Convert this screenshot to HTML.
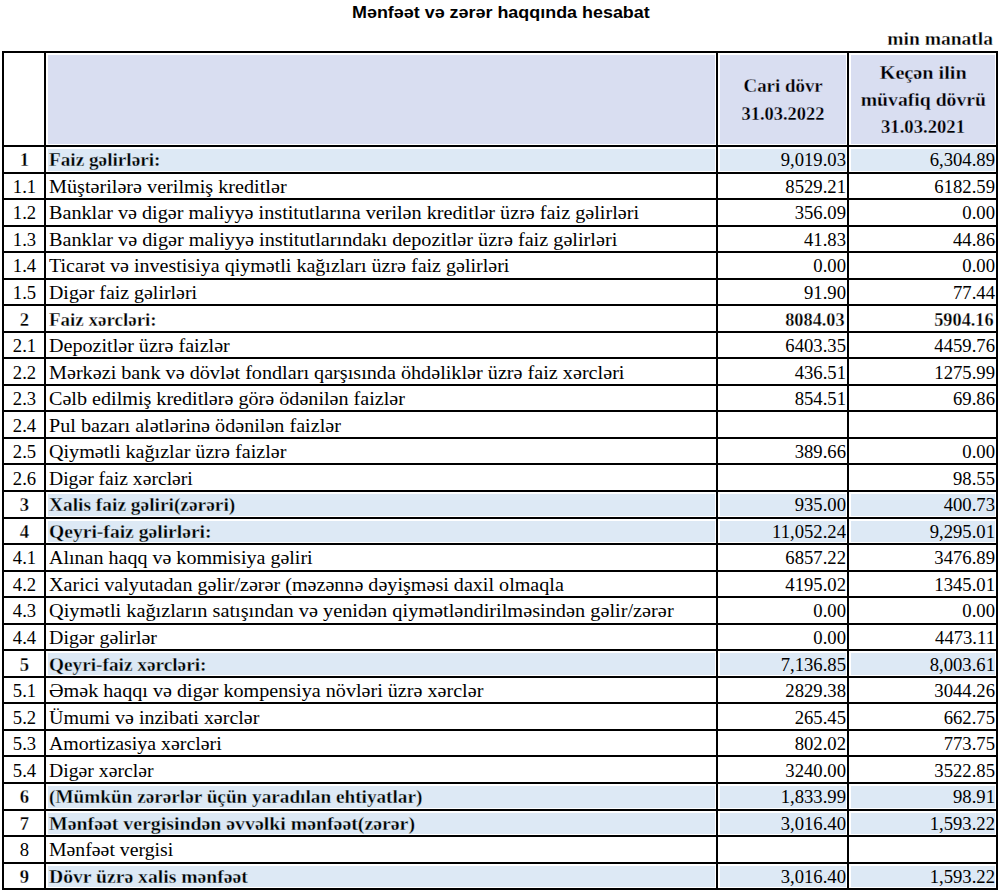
<!DOCTYPE html>
<html><head><meta charset="utf-8"><style>
html,body{margin:0;padding:0;background:#fff;}
body{width:1000px;height:892px;position:relative;overflow:hidden;}
.a{position:absolute;}
.l{position:absolute;background:#000;}
.f{position:absolute;}
.t{position:absolute;font-family:"Liberation Serif",serif;white-space:nowrap;color:#000;}
.title{position:absolute;font-family:"Liberation Sans",sans-serif;font-weight:bold;white-space:nowrap;}
</style></head><body>

<div class="title" style="left:352px;top:1.9px;font-size:16.5px;line-height:20px;transform:scaleX(1.086);transform-origin:0 0;">Mənfəət və zərər haqqında hesabat</div>
<div class="t" style="right:7px;top:29px;font-size:18.67px;line-height:20px;font-weight:bold;-webkit-text-stroke:0.3px #fff;transform:scaleX(1.047);transform-origin:100% 0;letter-spacing:0px">min manatla</div>
<div class="f" style="left:48px;top:55px;width:667px;height:89px;background:#d9def1"></div>
<div class="f" style="left:720px;top:55px;width:126px;height:89px;background:#d9def1"></div>
<div class="f" style="left:851px;top:55px;width:144px;height:89px;background:#d9def1"></div>
<div class="f" style="left:48px;top:149px;width:667px;height:22px;background:#dde9f5"></div>
<div class="f" style="left:720px;top:149px;width:126px;height:22px;background:#dde9f5"></div>
<div class="f" style="left:851px;top:149px;width:144px;height:22px;background:#dde9f5"></div>
<div class="f" style="left:48px;top:494px;width:667px;height:22px;background:#dde9f5"></div>
<div class="f" style="left:720px;top:494px;width:126px;height:22px;background:#dde9f5"></div>
<div class="f" style="left:851px;top:494px;width:144px;height:22px;background:#dde9f5"></div>
<div class="f" style="left:48px;top:521px;width:667px;height:21px;background:#dde9f5"></div>
<div class="f" style="left:720px;top:521px;width:126px;height:21px;background:#dde9f5"></div>
<div class="f" style="left:851px;top:521px;width:144px;height:21px;background:#dde9f5"></div>
<div class="f" style="left:48px;top:653px;width:667px;height:22px;background:#dde9f5"></div>
<div class="f" style="left:720px;top:653px;width:126px;height:22px;background:#dde9f5"></div>
<div class="f" style="left:851px;top:653px;width:144px;height:22px;background:#dde9f5"></div>
<div class="f" style="left:48px;top:786px;width:667px;height:22px;background:#dde9f5"></div>
<div class="f" style="left:720px;top:786px;width:126px;height:22px;background:#dde9f5"></div>
<div class="f" style="left:851px;top:786px;width:144px;height:22px;background:#dde9f5"></div>
<div class="f" style="left:48px;top:813px;width:667px;height:21px;background:#dde9f5"></div>
<div class="f" style="left:720px;top:813px;width:126px;height:21px;background:#dde9f5"></div>
<div class="f" style="left:851px;top:813px;width:144px;height:21px;background:#dde9f5"></div>
<div class="f" style="left:48px;top:866px;width:667px;height:21px;background:#dde9f5"></div>
<div class="f" style="left:720px;top:866px;width:126px;height:21px;background:#dde9f5"></div>
<div class="f" style="left:851px;top:866px;width:144px;height:21px;background:#dde9f5"></div>
<div class="l" style="left:2px;top:51px;width:996px;height:2px"></div>
<div class="l" style="left:2px;top:145px;width:996px;height:2px"></div>
<div class="l" style="left:2px;top:172px;width:996px;height:2px"></div>
<div class="l" style="left:2px;top:198px;width:996px;height:2px"></div>
<div class="l" style="left:2px;top:225px;width:996px;height:2px"></div>
<div class="l" style="left:2px;top:251px;width:996px;height:2px"></div>
<div class="l" style="left:2px;top:278px;width:996px;height:2px"></div>
<div class="l" style="left:2px;top:304px;width:996px;height:2px"></div>
<div class="l" style="left:2px;top:331px;width:996px;height:2px"></div>
<div class="l" style="left:2px;top:357px;width:996px;height:2px"></div>
<div class="l" style="left:2px;top:384px;width:996px;height:2px"></div>
<div class="l" style="left:2px;top:410px;width:996px;height:2px"></div>
<div class="l" style="left:2px;top:437px;width:996px;height:2px"></div>
<div class="l" style="left:2px;top:463px;width:996px;height:2px"></div>
<div class="l" style="left:2px;top:490px;width:996px;height:2px"></div>
<div class="l" style="left:2px;top:517px;width:996px;height:2px"></div>
<div class="l" style="left:2px;top:543px;width:996px;height:2px"></div>
<div class="l" style="left:2px;top:570px;width:996px;height:2px"></div>
<div class="l" style="left:2px;top:596px;width:996px;height:2px"></div>
<div class="l" style="left:2px;top:623px;width:996px;height:2px"></div>
<div class="l" style="left:2px;top:649px;width:996px;height:2px"></div>
<div class="l" style="left:2px;top:676px;width:996px;height:2px"></div>
<div class="l" style="left:2px;top:702px;width:996px;height:2px"></div>
<div class="l" style="left:2px;top:729px;width:996px;height:2px"></div>
<div class="l" style="left:2px;top:755px;width:996px;height:2px"></div>
<div class="l" style="left:2px;top:782px;width:996px;height:2px"></div>
<div class="l" style="left:2px;top:809px;width:996px;height:2px"></div>
<div class="l" style="left:2px;top:835px;width:996px;height:2px"></div>
<div class="l" style="left:2px;top:862px;width:996px;height:2px"></div>
<div class="l" style="left:2px;top:888px;width:996px;height:2px"></div>
<div class="l" style="left:2px;top:51px;width:2px;height:839px"></div>
<div class="l" style="left:44px;top:51px;width:2px;height:839px"></div>
<div class="l" style="left:716px;top:51px;width:2px;height:839px"></div>
<div class="l" style="left:847px;top:51px;width:2px;height:839px"></div>
<div class="l" style="left:996px;top:51px;width:2px;height:839px"></div>
<div class="t" style="left:4.5px;width:40px;text-align:center;top:148.3px;font-size:18.67px;line-height:24px;font-weight:bold;-webkit-text-stroke:0.3px #fff;"><span style="display:inline-block;transform:scaleX(1.0);letter-spacing:0px">1</span></div>
<div class="t" style="left:49px;top:148.3px;font-size:18.67px;line-height:24px;font-weight:bold;-webkit-text-stroke:0.3px #dde9f5;transform:scaleX(1.0299);transform-origin:0 0;letter-spacing:0px">Faiz gəlirləri:</div>
<div class="t" style="right:154px;top:148.3px;font-size:18.67px;line-height:24px;transform:scaleX(1.0);transform-origin:100% 0;letter-spacing:0px">9,019.03</div>
<div class="t" style="right:5px;top:148.3px;font-size:18.67px;line-height:24px;transform:scaleX(1.0);transform-origin:100% 0;letter-spacing:0px">6,304.89</div>
<div class="t" style="left:4.5px;width:40px;text-align:center;top:174.84px;font-size:18.67px;line-height:24px;"><span style="display:inline-block;transform:scaleX(1.0);letter-spacing:0px">1.1</span></div>
<div class="t" style="left:49px;top:174.84px;font-size:18.67px;line-height:24px;transform:scaleX(1.0818);transform-origin:0 0;letter-spacing:0px">Müştərilərə verilmiş kreditlər</div>
<div class="t" style="right:154px;top:174.84px;font-size:18.67px;line-height:24px;transform:scaleX(1.0);transform-origin:100% 0;letter-spacing:0px">8529.21</div>
<div class="t" style="right:5px;top:174.84px;font-size:18.67px;line-height:24px;transform:scaleX(1.0);transform-origin:100% 0;letter-spacing:0px">6182.59</div>
<div class="t" style="left:4.5px;width:40px;text-align:center;top:201.38px;font-size:18.67px;line-height:24px;"><span style="display:inline-block;transform:scaleX(1.0);letter-spacing:0px">1.2</span></div>
<div class="t" style="left:49px;top:201.38px;font-size:18.67px;line-height:24px;transform:scaleX(1.0817);transform-origin:0 0;letter-spacing:0px">Banklar və digər maliyyə institutlarına verilən kreditlər üzrə faiz gəlirləri</div>
<div class="t" style="right:154px;top:201.38px;font-size:18.67px;line-height:24px;transform:scaleX(1.0);transform-origin:100% 0;letter-spacing:0px">356.09</div>
<div class="t" style="right:5px;top:201.38px;font-size:18.67px;line-height:24px;transform:scaleX(1.0);transform-origin:100% 0;letter-spacing:0px">0.00</div>
<div class="t" style="left:4.5px;width:40px;text-align:center;top:227.92px;font-size:18.67px;line-height:24px;"><span style="display:inline-block;transform:scaleX(1.0);letter-spacing:0px">1.3</span></div>
<div class="t" style="left:49px;top:227.92px;font-size:18.67px;line-height:24px;transform:scaleX(1.084);transform-origin:0 0;letter-spacing:0px">Banklar və digər maliyyə institutlarındakı depozitlər üzrə faiz gəlirləri</div>
<div class="t" style="right:154px;top:227.92px;font-size:18.67px;line-height:24px;transform:scaleX(1.0);transform-origin:100% 0;letter-spacing:0px">41.83</div>
<div class="t" style="right:5px;top:227.92px;font-size:18.67px;line-height:24px;transform:scaleX(1.0);transform-origin:100% 0;letter-spacing:0px">44.86</div>
<div class="t" style="left:4.5px;width:40px;text-align:center;top:254.46px;font-size:18.67px;line-height:24px;"><span style="display:inline-block;transform:scaleX(1.0);letter-spacing:0px">1.4</span></div>
<div class="t" style="left:49px;top:254.46px;font-size:18.67px;line-height:24px;transform:scaleX(1.0738);transform-origin:0 0;letter-spacing:0px">Ticarət və investisiya qiymətli kağızları üzrə faiz gəlirləri</div>
<div class="t" style="right:154px;top:254.46px;font-size:18.67px;line-height:24px;transform:scaleX(1.0);transform-origin:100% 0;letter-spacing:0px">0.00</div>
<div class="t" style="right:5px;top:254.46px;font-size:18.67px;line-height:24px;transform:scaleX(1.0);transform-origin:100% 0;letter-spacing:0px">0.00</div>
<div class="t" style="left:4.5px;width:40px;text-align:center;top:281.0px;font-size:18.67px;line-height:24px;"><span style="display:inline-block;transform:scaleX(1.0);letter-spacing:0px">1.5</span></div>
<div class="t" style="left:49px;top:281.0px;font-size:18.67px;line-height:24px;transform:scaleX(1.0667);transform-origin:0 0;letter-spacing:0px">Digər faiz gəlirləri</div>
<div class="t" style="right:154px;top:281.0px;font-size:18.67px;line-height:24px;transform:scaleX(1.0);transform-origin:100% 0;letter-spacing:0px">91.90</div>
<div class="t" style="right:5px;top:281.0px;font-size:18.67px;line-height:24px;transform:scaleX(1.0);transform-origin:100% 0;letter-spacing:0px">77.44</div>
<div class="t" style="left:4.5px;width:40px;text-align:center;top:307.54px;font-size:18.67px;line-height:24px;font-weight:bold;-webkit-text-stroke:0.3px #fff;"><span style="display:inline-block;transform:scaleX(1.0);letter-spacing:0px">2</span></div>
<div class="t" style="left:49px;top:307.54px;font-size:18.67px;line-height:24px;font-weight:bold;-webkit-text-stroke:0.3px #fff;transform:scaleX(1.0173);transform-origin:0 0;letter-spacing:0px">Faiz xərcləri:</div>
<div class="t" style="right:155px;top:307.54px;font-size:18.67px;line-height:24px;font-weight:bold;-webkit-text-stroke:0.3px #fff;transform:scaleX(0.98);transform-origin:100% 0;letter-spacing:0px">8084.03</div>
<div class="t" style="right:6px;top:307.54px;font-size:18.67px;line-height:24px;font-weight:bold;-webkit-text-stroke:0.3px #fff;transform:scaleX(0.98);transform-origin:100% 0;letter-spacing:0px">5904.16</div>
<div class="t" style="left:4.5px;width:40px;text-align:center;top:334.08px;font-size:18.67px;line-height:24px;"><span style="display:inline-block;transform:scaleX(1.0);letter-spacing:0px">2.1</span></div>
<div class="t" style="left:49px;top:334.08px;font-size:18.67px;line-height:24px;transform:scaleX(1.0774);transform-origin:0 0;letter-spacing:0px">Depozitlər üzrə faizlər</div>
<div class="t" style="right:154px;top:334.08px;font-size:18.67px;line-height:24px;transform:scaleX(1.0);transform-origin:100% 0;letter-spacing:0px">6403.35</div>
<div class="t" style="right:5px;top:334.08px;font-size:18.67px;line-height:24px;transform:scaleX(1.0);transform-origin:100% 0;letter-spacing:0px">4459.76</div>
<div class="t" style="left:4.5px;width:40px;text-align:center;top:360.62px;font-size:18.67px;line-height:24px;"><span style="display:inline-block;transform:scaleX(1.0);letter-spacing:0px">2.2</span></div>
<div class="t" style="left:49px;top:360.62px;font-size:18.67px;line-height:24px;transform:scaleX(1.0817);transform-origin:0 0;letter-spacing:0px">Mərkəzi bank və dövlət fondları qarşısında öhdəliklər üzrə faiz xərcləri</div>
<div class="t" style="right:154px;top:360.62px;font-size:18.67px;line-height:24px;transform:scaleX(1.0);transform-origin:100% 0;letter-spacing:0px">436.51</div>
<div class="t" style="right:5px;top:360.62px;font-size:18.67px;line-height:24px;transform:scaleX(1.0);transform-origin:100% 0;letter-spacing:0px">1275.99</div>
<div class="t" style="left:4.5px;width:40px;text-align:center;top:387.16px;font-size:18.67px;line-height:24px;"><span style="display:inline-block;transform:scaleX(1.0);letter-spacing:0px">2.3</span></div>
<div class="t" style="left:49px;top:387.16px;font-size:18.67px;line-height:24px;transform:scaleX(1.0788);transform-origin:0 0;letter-spacing:0px">Cəlb edilmiş kreditlərə görə ödənilən faizlər</div>
<div class="t" style="right:154px;top:387.16px;font-size:18.67px;line-height:24px;transform:scaleX(1.0);transform-origin:100% 0;letter-spacing:0px">854.51</div>
<div class="t" style="right:5px;top:387.16px;font-size:18.67px;line-height:24px;transform:scaleX(1.0);transform-origin:100% 0;letter-spacing:0px">69.86</div>
<div class="t" style="left:4.5px;width:40px;text-align:center;top:413.7px;font-size:18.67px;line-height:24px;"><span style="display:inline-block;transform:scaleX(1.0);letter-spacing:0px">2.4</span></div>
<div class="t" style="left:49px;top:413.7px;font-size:18.67px;line-height:24px;transform:scaleX(1.0796);transform-origin:0 0;letter-spacing:0px">Pul bazarı alətlərinə ödənilən faizlər</div>
<div class="t" style="left:4.5px;width:40px;text-align:center;top:440.24px;font-size:18.67px;line-height:24px;"><span style="display:inline-block;transform:scaleX(1.0);letter-spacing:0px">2.5</span></div>
<div class="t" style="left:49px;top:440.24px;font-size:18.67px;line-height:24px;transform:scaleX(1.0784);transform-origin:0 0;letter-spacing:0px">Qiymətli kağızlar üzrə faizlər</div>
<div class="t" style="right:154px;top:440.24px;font-size:18.67px;line-height:24px;transform:scaleX(1.0);transform-origin:100% 0;letter-spacing:0px">389.66</div>
<div class="t" style="right:5px;top:440.24px;font-size:18.67px;line-height:24px;transform:scaleX(1.0);transform-origin:100% 0;letter-spacing:0px">0.00</div>
<div class="t" style="left:4.5px;width:40px;text-align:center;top:466.78px;font-size:18.67px;line-height:24px;"><span style="display:inline-block;transform:scaleX(1.0);letter-spacing:0px">2.6</span></div>
<div class="t" style="left:49px;top:466.78px;font-size:18.67px;line-height:24px;transform:scaleX(1.0515);transform-origin:0 0;letter-spacing:0px">Digər faiz xərcləri</div>
<div class="t" style="right:5px;top:466.78px;font-size:18.67px;line-height:24px;transform:scaleX(1.0);transform-origin:100% 0;letter-spacing:0px">98.55</div>
<div class="t" style="left:4.5px;width:40px;text-align:center;top:493.32px;font-size:18.67px;line-height:24px;font-weight:bold;-webkit-text-stroke:0.3px #fff;"><span style="display:inline-block;transform:scaleX(1.0);letter-spacing:0px">3</span></div>
<div class="t" style="left:49px;top:493.32px;font-size:18.67px;line-height:24px;font-weight:bold;-webkit-text-stroke:0.3px #dde9f5;transform:scaleX(1.0391);transform-origin:0 0;letter-spacing:0px">Xalis faiz gəliri(zərəri)</div>
<div class="t" style="right:154px;top:493.32px;font-size:18.67px;line-height:24px;transform:scaleX(1.0);transform-origin:100% 0;letter-spacing:0px">935.00</div>
<div class="t" style="right:5px;top:493.32px;font-size:18.67px;line-height:24px;transform:scaleX(1.0);transform-origin:100% 0;letter-spacing:0px">400.73</div>
<div class="t" style="left:4.5px;width:40px;text-align:center;top:519.86px;font-size:18.67px;line-height:24px;font-weight:bold;-webkit-text-stroke:0.3px #fff;"><span style="display:inline-block;transform:scaleX(1.0);letter-spacing:0px">4</span></div>
<div class="t" style="left:49px;top:519.86px;font-size:18.67px;line-height:24px;font-weight:bold;-webkit-text-stroke:0.3px #dde9f5;transform:scaleX(1.0497);transform-origin:0 0;letter-spacing:0px">Qeyri-faiz gəlirləri:</div>
<div class="t" style="right:154px;top:519.86px;font-size:18.67px;line-height:24px;transform:scaleX(1.0);transform-origin:100% 0;letter-spacing:0px">11,052.24</div>
<div class="t" style="right:5px;top:519.86px;font-size:18.67px;line-height:24px;transform:scaleX(1.0);transform-origin:100% 0;letter-spacing:0px">9,295.01</div>
<div class="t" style="left:4.5px;width:40px;text-align:center;top:546.4px;font-size:18.67px;line-height:24px;"><span style="display:inline-block;transform:scaleX(1.0);letter-spacing:0px">4.1</span></div>
<div class="t" style="left:49px;top:546.4px;font-size:18.67px;line-height:24px;transform:scaleX(1.0735);transform-origin:0 0;letter-spacing:0px">Alınan haqq və kommisiya gəliri</div>
<div class="t" style="right:154px;top:546.4px;font-size:18.67px;line-height:24px;transform:scaleX(1.0);transform-origin:100% 0;letter-spacing:0px">6857.22</div>
<div class="t" style="right:5px;top:546.4px;font-size:18.67px;line-height:24px;transform:scaleX(1.0);transform-origin:100% 0;letter-spacing:0px">3476.89</div>
<div class="t" style="left:4.5px;width:40px;text-align:center;top:572.94px;font-size:18.67px;line-height:24px;"><span style="display:inline-block;transform:scaleX(1.0);letter-spacing:0px">4.2</span></div>
<div class="t" style="left:49px;top:572.94px;font-size:18.67px;line-height:24px;transform:scaleX(1.078);transform-origin:0 0;letter-spacing:0px">Xarici valyutadan gəlir/zərər (məzənnə dəyişməsi daxil olmaqla</div>
<div class="t" style="right:154px;top:572.94px;font-size:18.67px;line-height:24px;transform:scaleX(1.0);transform-origin:100% 0;letter-spacing:0px">4195.02</div>
<div class="t" style="right:5px;top:572.94px;font-size:18.67px;line-height:24px;transform:scaleX(1.0);transform-origin:100% 0;letter-spacing:0px">1345.01</div>
<div class="t" style="left:4.5px;width:40px;text-align:center;top:599.48px;font-size:18.67px;line-height:24px;"><span style="display:inline-block;transform:scaleX(1.0);letter-spacing:0px">4.3</span></div>
<div class="t" style="left:49px;top:599.48px;font-size:18.67px;line-height:24px;transform:scaleX(1.0882);transform-origin:0 0;letter-spacing:0px">Qiymətli kağızların satışından və yenidən qiymətləndirilməsindən gəlir/zərər</div>
<div class="t" style="right:154px;top:599.48px;font-size:18.67px;line-height:24px;transform:scaleX(1.0);transform-origin:100% 0;letter-spacing:0px">0.00</div>
<div class="t" style="right:5px;top:599.48px;font-size:18.67px;line-height:24px;transform:scaleX(1.0);transform-origin:100% 0;letter-spacing:0px">0.00</div>
<div class="t" style="left:4.5px;width:40px;text-align:center;top:626.02px;font-size:18.67px;line-height:24px;"><span style="display:inline-block;transform:scaleX(1.0);letter-spacing:0px">4.4</span></div>
<div class="t" style="left:49px;top:626.02px;font-size:18.67px;line-height:24px;transform:scaleX(1.0693);transform-origin:0 0;letter-spacing:0px">Digər gəlirlər</div>
<div class="t" style="right:154px;top:626.02px;font-size:18.67px;line-height:24px;transform:scaleX(1.0);transform-origin:100% 0;letter-spacing:0px">0.00</div>
<div class="t" style="right:5px;top:626.02px;font-size:18.67px;line-height:24px;transform:scaleX(1.0);transform-origin:100% 0;letter-spacing:0px">4473.11</div>
<div class="t" style="left:4.5px;width:40px;text-align:center;top:652.56px;font-size:18.67px;line-height:24px;font-weight:bold;-webkit-text-stroke:0.3px #fff;"><span style="display:inline-block;transform:scaleX(1.0);letter-spacing:0px">5</span></div>
<div class="t" style="left:49px;top:652.56px;font-size:18.67px;line-height:24px;font-weight:bold;-webkit-text-stroke:0.3px #dde9f5;transform:scaleX(1.0331);transform-origin:0 0;letter-spacing:0px">Qeyri-faiz xərcləri:</div>
<div class="t" style="right:154px;top:652.56px;font-size:18.67px;line-height:24px;transform:scaleX(1.0);transform-origin:100% 0;letter-spacing:0px">7,136.85</div>
<div class="t" style="right:5px;top:652.56px;font-size:18.67px;line-height:24px;transform:scaleX(1.0);transform-origin:100% 0;letter-spacing:0px">8,003.61</div>
<div class="t" style="left:4.5px;width:40px;text-align:center;top:679.1px;font-size:18.67px;line-height:24px;"><span style="display:inline-block;transform:scaleX(1.0);letter-spacing:0px">5.1</span></div>
<div class="t" style="left:49px;top:679.1px;font-size:18.67px;line-height:24px;transform:scaleX(1.0791);transform-origin:0 0;letter-spacing:0px">Əmək haqqı və digər kompensiya növləri üzrə xərclər</div>
<div class="t" style="right:154px;top:679.1px;font-size:18.67px;line-height:24px;transform:scaleX(1.0);transform-origin:100% 0;letter-spacing:0px">2829.38</div>
<div class="t" style="right:5px;top:679.1px;font-size:18.67px;line-height:24px;transform:scaleX(1.0);transform-origin:100% 0;letter-spacing:0px">3044.26</div>
<div class="t" style="left:4.5px;width:40px;text-align:center;top:705.64px;font-size:18.67px;line-height:24px;"><span style="display:inline-block;transform:scaleX(1.0);letter-spacing:0px">5.2</span></div>
<div class="t" style="left:49px;top:705.64px;font-size:18.67px;line-height:24px;transform:scaleX(1.0714);transform-origin:0 0;letter-spacing:0px">Ümumi və inzibati xərclər</div>
<div class="t" style="right:154px;top:705.64px;font-size:18.67px;line-height:24px;transform:scaleX(1.0);transform-origin:100% 0;letter-spacing:0px">265.45</div>
<div class="t" style="right:5px;top:705.64px;font-size:18.67px;line-height:24px;transform:scaleX(1.0);transform-origin:100% 0;letter-spacing:0px">662.75</div>
<div class="t" style="left:4.5px;width:40px;text-align:center;top:732.18px;font-size:18.67px;line-height:24px;"><span style="display:inline-block;transform:scaleX(1.0);letter-spacing:0px">5.3</span></div>
<div class="t" style="left:49px;top:732.18px;font-size:18.67px;line-height:24px;transform:scaleX(1.0654);transform-origin:0 0;letter-spacing:0px">Amortizasiya xərcləri</div>
<div class="t" style="right:154px;top:732.18px;font-size:18.67px;line-height:24px;transform:scaleX(1.0);transform-origin:100% 0;letter-spacing:0px">802.02</div>
<div class="t" style="right:5px;top:732.18px;font-size:18.67px;line-height:24px;transform:scaleX(1.0);transform-origin:100% 0;letter-spacing:0px">773.75</div>
<div class="t" style="left:4.5px;width:40px;text-align:center;top:758.72px;font-size:18.67px;line-height:24px;"><span style="display:inline-block;transform:scaleX(1.0);letter-spacing:0px">5.4</span></div>
<div class="t" style="left:49px;top:758.72px;font-size:18.67px;line-height:24px;transform:scaleX(1.0566);transform-origin:0 0;letter-spacing:0px">Digər xərclər</div>
<div class="t" style="right:154px;top:758.72px;font-size:18.67px;line-height:24px;transform:scaleX(1.0);transform-origin:100% 0;letter-spacing:0px">3240.00</div>
<div class="t" style="right:5px;top:758.72px;font-size:18.67px;line-height:24px;transform:scaleX(1.0);transform-origin:100% 0;letter-spacing:0px">3522.85</div>
<div class="t" style="left:4.5px;width:40px;text-align:center;top:785.26px;font-size:18.67px;line-height:24px;font-weight:bold;-webkit-text-stroke:0.3px #fff;"><span style="display:inline-block;transform:scaleX(1.0);letter-spacing:0px">6</span></div>
<div class="t" style="left:49px;top:785.26px;font-size:18.67px;line-height:24px;font-weight:bold;-webkit-text-stroke:0.3px #dde9f5;transform:scaleX(1.0304);transform-origin:0 0;letter-spacing:0px">(Mümkün zərərlər üçün yaradılan ehtiyatlar)</div>
<div class="t" style="right:154px;top:785.26px;font-size:18.67px;line-height:24px;transform:scaleX(1.0);transform-origin:100% 0;letter-spacing:0px">1,833.99</div>
<div class="t" style="right:5px;top:785.26px;font-size:18.67px;line-height:24px;transform:scaleX(1.0);transform-origin:100% 0;letter-spacing:0px">98.91</div>
<div class="t" style="left:4.5px;width:40px;text-align:center;top:811.8px;font-size:18.67px;line-height:24px;font-weight:bold;-webkit-text-stroke:0.3px #fff;"><span style="display:inline-block;transform:scaleX(1.0);letter-spacing:0px">7</span></div>
<div class="t" style="left:49px;top:811.8px;font-size:18.67px;line-height:24px;font-weight:bold;-webkit-text-stroke:0.3px #dde9f5;transform:scaleX(1.0625);transform-origin:0 0;letter-spacing:0px">Mənfəət vergisindən əvvəlki mənfəət(zərər)</div>
<div class="t" style="right:154px;top:811.8px;font-size:18.67px;line-height:24px;transform:scaleX(1.0);transform-origin:100% 0;letter-spacing:0px">3,016.40</div>
<div class="t" style="right:5px;top:811.8px;font-size:18.67px;line-height:24px;transform:scaleX(1.0);transform-origin:100% 0;letter-spacing:0px">1,593.22</div>
<div class="t" style="left:4.5px;width:40px;text-align:center;top:838.34px;font-size:18.67px;line-height:24px;"><span style="display:inline-block;transform:scaleX(1.0);letter-spacing:0px">8</span></div>
<div class="t" style="left:49px;top:838.34px;font-size:18.67px;line-height:24px;transform:scaleX(1.0598);transform-origin:0 0;letter-spacing:0px">Mənfəət vergisi</div>
<div class="t" style="left:4.5px;width:40px;text-align:center;top:864.88px;font-size:18.67px;line-height:24px;font-weight:bold;-webkit-text-stroke:0.3px #fff;"><span style="display:inline-block;transform:scaleX(1.0);letter-spacing:0px">9</span></div>
<div class="t" style="left:49px;top:864.88px;font-size:18.67px;line-height:24px;font-weight:bold;-webkit-text-stroke:0.3px #dde9f5;transform:scaleX(1.0529);transform-origin:0 0;letter-spacing:0px">Dövr üzrə xalis mənfəət</div>
<div class="t" style="right:154px;top:864.88px;font-size:18.67px;line-height:24px;transform:scaleX(1.0);transform-origin:100% 0;letter-spacing:0px">3,016.40</div>
<div class="t" style="right:5px;top:864.88px;font-size:18.67px;line-height:24px;transform:scaleX(1.0);transform-origin:100% 0;letter-spacing:0px">1,593.22</div>
<div class="t" style="left:683px;width:200px;text-align:center;top:74.2px;font-size:18.67px;line-height:24px;font-weight:bold;-webkit-text-stroke:0.3px #d9def1;"><span style="display:inline-block;transform:scaleX(1.013);">Cari dövr</span></div>
<div class="t" style="left:683px;width:200px;text-align:center;top:101.6px;font-size:18.67px;line-height:24px;font-weight:bold;-webkit-text-stroke:0.3px #d9def1;"><span style="display:inline-block;transform:scaleX(0.988);">31.03.2022</span></div>
<div class="t" style="left:823px;width:200px;text-align:center;top:60.8px;font-size:18.67px;line-height:24px;font-weight:bold;-webkit-text-stroke:0.3px #d9def1;"><span style="display:inline-block;transform:scaleX(1.083);">Keçən ilin</span></div>
<div class="t" style="left:823px;width:200px;text-align:center;top:87.8px;font-size:18.67px;line-height:24px;font-weight:bold;-webkit-text-stroke:0.3px #d9def1;"><span style="display:inline-block;transform:scaleX(1.056);">müvafiq dövrü</span></div>
<div class="t" style="left:823px;width:200px;text-align:center;top:115.0px;font-size:18.67px;line-height:24px;font-weight:bold;-webkit-text-stroke:0.3px #d9def1;"><span style="display:inline-block;transform:scaleX(1.0);">31.03.2021</span></div>
</body></html>
